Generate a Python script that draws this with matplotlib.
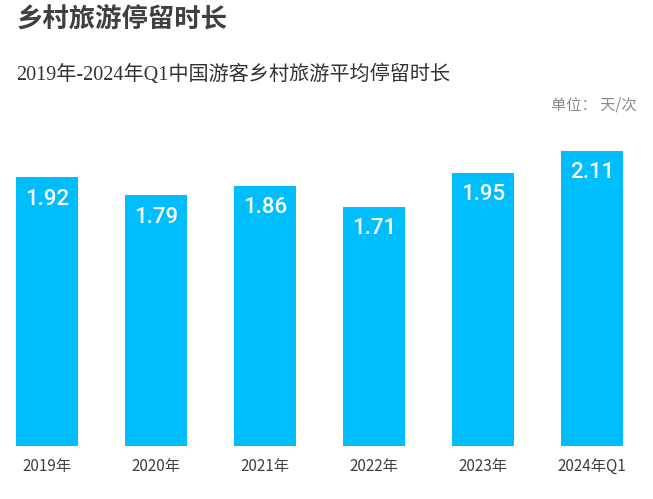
import numpy as np
import matplotlib.pyplot as plt

plt.rcParams['font.family'] = ['Noto Sans CJK SC', 'DejaVu Sans']

# data
years = ['2019年', '2020年', '2021年', '2022年', '2023年', '2024年Q1']
stay_days = [1.92, 1.79, 1.86, 1.71, 1.95, 2.11]

bar_color = '#00BDFB'
text_dark = '#404040'

fig = plt.figure(figsize=(6.53, 4.99), dpi=100)
ax = fig.add_axes([0, (499 - 446) / 499, 1, (446 - 100) / 499])

x = np.arange(len(years))
bars = ax.bar(x, stay_days, width=0.57, color=bar_color)

# value labels inside top of bars
for xi, v in zip(x, stay_days):
    ax.annotate(f'{v:.2f}', (xi, v), xytext=(0, -22), textcoords='offset pixels',
                ha='center', va='center', color='white', fontsize=16,
                fontweight='medium', family=['Roboto', 'DejaVu Sans'])

ax.set_xlim(-47 / 109, (653 - 47) / 109)
ax.set_ylim(0, (446 - 100) / 140)
ax.set_xticks(x)
ax.set_xticklabels(years, fontsize=11, color=text_dark)
ax.tick_params(axis='x', length=0, pad=9)
ax.set_yticks([])
for s in ax.spines.values():
    s.set_visible(False)

# titles
fig.text(17 / 653, 1 - 19 / 499, '乡村旅游停留时长', fontsize=19, fontweight='heavy',
         color=text_dark, ha='left', va='center')
fig.text(16 / 653, 1 - 75 / 499, '2019年-2024年Q1中国游客乡村旅游平均停留时长', fontsize=14.5,
         color='#333333', ha='left', va='center',
         family=['Liberation Serif', 'Noto Sans CJK SC'])
fig.text(637 / 653, 1 - 105 / 499, '单位： 天/次', fontsize=11, color='#8a8a8a',
         ha='right', va='center')

fig.savefig('out.png', dpi=100)
